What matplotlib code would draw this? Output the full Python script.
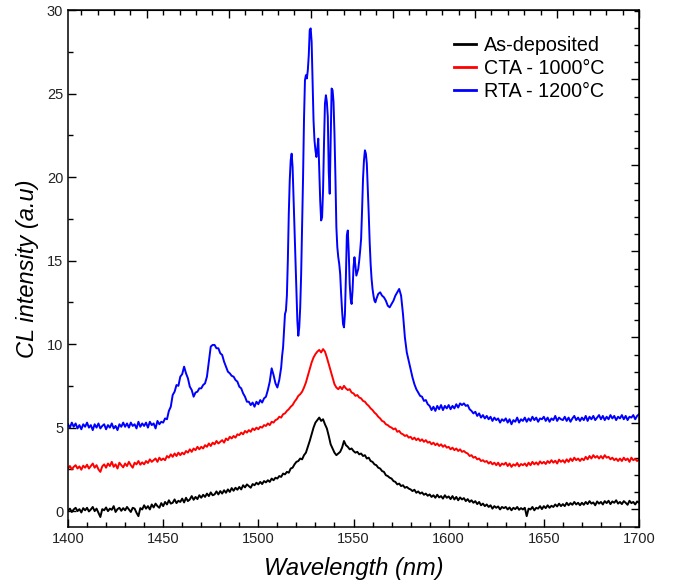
import numpy as np
import matplotlib
matplotlib.use("Agg")
import matplotlib.pyplot as plt
from matplotlib.ticker import MultipleLocator, NullFormatter

plt.rcParams['font.family'] = ['Liberation Sans', 'DejaVu Sans']

# wavelength grids (nm)
wl = np.arange(1400, 1701, 1.0)
wl_blue = np.concatenate([np.arange(1400, 1512, 1.0),
                          np.arange(1512, 1562, 0.5),
                          np.arange(1562, 1701, 1.0)])

# As-deposited
black = [
    0.02, 0.15, -0.05, 0.1, 0.2, 0.0, 0.12, -0.08, 0.18, 0.05,
    0.2, -0.02, 0.1, 0.25, 0.0, 0.15, -0.1, -0.35, 0.12, 0.05,
    0.22, 0.0, 0.15, 0.08, 0.3, -0.05, 0.12, 0.2, 0.02, 0.18,
    0.05, 0.25, 0.1, -0.05, 0.2, 0.15, -0.1, -0.3, 0.18, 0.1,
    0.35, 0.15, 0.3, 0.1, 0.4, 0.22, 0.45, 0.3, 0.2, 0.48,
    0.3, 0.55, 0.4, 0.65, 0.45, 0.5, 0.7, 0.48, 0.62, 0.55,
    0.75, 0.52, 0.8, 0.6, 0.7, 0.9, 0.68, 0.85, 0.72, 0.95,
    0.8, 0.98, 0.85, 1.05, 0.9, 1.12, 0.95, 1.0, 1.18, 1.0,
    1.2, 1.05, 1.25, 1.1, 1.3, 1.15, 1.38, 1.22, 1.4, 1.28,
    1.45, 1.3, 1.55, 1.42, 1.6, 1.5, 1.4, 1.62, 1.55, 1.7,
    1.6, 1.75, 1.62, 1.8, 1.72, 1.85, 1.75, 1.95, 1.85, 2.0,
    1.95, 2.1, 2.05, 2.25, 2.2, 2.35, 2.3, 2.55, 2.6, 2.8,
    2.95, 3.0, 3.15, 3.1, 3.35, 3.5, 3.85, 4.2, 4.6, 5.0,
    5.3, 5.45, 5.6, 5.4, 5.5, 5.2, 4.95, 4.5, 4.0, 3.75,
    3.5, 3.35, 3.45, 3.55, 3.8, 4.2, 3.95, 3.85, 3.7, 3.75,
    3.6, 3.5, 3.55, 3.4, 3.45, 3.3, 3.35, 3.15, 3.2, 3.0,
    2.95, 2.8, 2.75, 2.6, 2.55, 2.4, 2.35, 2.15, 2.1, 2.0,
    1.95, 1.8, 1.75, 1.6, 1.65, 1.5, 1.55, 1.4, 1.45, 1.35,
    1.3, 1.2, 1.28, 1.1, 1.18, 1.05, 1.12, 0.98, 1.05, 0.92,
    1.0, 0.85, 0.95, 0.8, 0.98, 0.82, 0.9, 0.75, 0.95, 0.8,
    0.88, 0.72, 0.9, 0.7, 0.85, 0.65, 0.82, 0.7, 0.78, 0.6,
    0.72, 0.55, 0.65, 0.5, 0.6, 0.42, 0.55, 0.35, 0.45, 0.3,
    0.4, 0.25, 0.35, 0.15, 0.3, 0.2, 0.28, 0.1, 0.25, 0.18,
    0.25, 0.1, 0.22, 0.05, 0.2, 0.12, 0.25, 0.08, 0.18, 0.1,
    0.2, -0.3, 0.15, 0.1, 0.25, 0.05, 0.2, 0.15, 0.3, 0.12,
    0.3, 0.18, 0.35, 0.2, 0.32, 0.25, 0.4, 0.28, 0.45, 0.3,
    0.42, 0.3, 0.5, 0.35, 0.48, 0.38, 0.55, 0.4, 0.5, 0.35,
    0.5, 0.38, 0.55, 0.42, 0.6, 0.45, 0.52, 0.35, 0.58, 0.45,
    0.55, 0.4, 0.6, 0.48, 0.62, 0.42, 0.58, 0.5, 0.65, 0.45,
    0.55, 0.42, 0.6, 0.5, 0.38, 0.62, 0.48, 0.55, 0.4, 0.58,
    0.5,
]

# CTA - 1000°C
red = [
    2.55, 2.7, 2.5, 2.65, 2.75, 2.55, 2.68, 2.48, 2.72, 2.6,
    2.78, 2.55, 2.7, 2.85, 2.6, 2.75, 2.5, 2.35, 2.68, 2.8,
    2.6, 2.85, 2.7, 2.95, 2.65, 2.8, 2.55, 2.9, 2.75, 2.62,
    2.85, 2.7, 2.95, 2.75, 2.6, 2.9, 2.8, 3.0, 2.78, 2.92,
    2.8, 3.0, 2.88, 3.1, 2.95, 3.05, 3.15, 2.95, 3.2, 3.05,
    3.15, 3.05, 3.3, 3.2, 3.4, 3.25, 3.45, 3.3, 3.5, 3.35,
    3.5, 3.4, 3.6, 3.5, 3.7, 3.55, 3.75, 3.65, 3.85, 3.7,
    3.85, 3.75, 3.95, 3.85, 4.05, 3.9, 4.1, 4.0, 4.2, 4.05,
    4.15, 4.25, 4.1, 4.35, 4.25, 4.45, 4.35, 4.5, 4.4, 4.6,
    4.55, 4.7, 4.6, 4.8, 4.7, 4.85, 4.75, 4.95, 4.85, 5.0,
    4.9, 5.05, 5.0, 5.15, 5.1, 5.25, 5.15, 5.35, 5.3, 5.45,
    5.5, 5.65, 5.6, 5.8, 5.85, 6.0, 6.1, 6.25, 6.35, 6.55,
    6.7, 6.9, 7.0, 7.15, 7.4, 7.7, 8.1, 8.5, 8.9, 9.2,
    9.4, 9.55, 9.65, 9.5, 9.7, 9.55, 9.2, 8.8, 8.4, 8.0,
    7.6, 7.4, 7.3, 7.45, 7.3, 7.5, 7.35, 7.25, 7.3, 7.1,
    7.05, 6.9, 6.95, 6.8, 6.75, 6.6, 6.55, 6.4, 6.3, 6.15,
    6.05, 5.9, 5.8, 5.65, 5.55, 5.4, 5.35, 5.2, 5.15, 5.05,
    5.0, 4.9, 4.95, 4.75, 4.8, 4.65, 4.6, 4.5, 4.55, 4.4,
    4.45, 4.3, 4.4, 4.25, 4.35, 4.2, 4.3, 4.15, 4.25, 4.1,
    4.15, 4.0, 4.1, 3.95, 4.05, 3.9, 4.0, 3.85, 3.95, 3.8,
    3.85, 3.7, 3.8, 3.65, 3.75, 3.6, 3.7, 3.55, 3.6, 3.5,
    3.45, 3.3, 3.35, 3.2, 3.25, 3.1, 3.15, 3.0, 3.05, 2.95,
    3.0, 2.85, 2.95, 2.8, 2.9, 2.75, 2.9, 2.7, 2.85, 2.78,
    2.9, 2.7, 2.85, 2.65, 2.8, 2.72, 2.88, 2.68, 2.82, 2.75,
    2.85, 2.7, 2.9, 2.75, 2.95, 2.8, 2.92, 2.78, 2.98, 2.85,
    2.95, 2.82, 3.0, 2.88, 3.05, 2.9, 3.02, 2.85, 3.08, 2.95,
    3.05, 2.9, 3.1, 2.95, 3.15, 3.0, 3.2, 3.05, 3.15, 3.0,
    3.15, 3.05, 3.25, 3.1, 3.3, 3.15, 3.35, 3.2, 3.3, 3.15,
    3.3, 3.15, 3.35, 3.2, 3.25, 3.1, 3.2, 3.05, 3.15, 3.0,
    3.15, 3.0, 3.2, 3.05, 3.15, 2.95, 3.2, 3.05, 3.12, 3.0,
    3.1,
]

# RTA - 1200°C
blue = [
    # 1400 - 1511, 1 nm
    5.2, 5.0, 5.3, 5.05, 5.25, 4.95, 5.15, 4.9, 5.2, 5.05,
    5.3, 5.0, 5.15, 4.85, 5.2, 5.0, 5.25, 4.95, 5.1, 5.2,
    4.9, 5.15, 5.0, 5.25, 4.95, 5.1, 4.85, 5.2, 5.05, 5.3,
    5.05, 5.25, 5.0, 5.3, 5.1, 5.2, 4.95, 5.35, 5.05, 5.25,
    5.1, 5.3, 5.0, 5.35, 5.15, 5.25, 4.95, 5.4, 5.2, 5.35,
    5.3, 5.55, 5.5, 6.0, 6.25, 6.95, 7.15, 7.55, 7.5, 8.05,
    8.2, 8.65, 8.25, 7.95, 7.45, 7.25, 6.85, 7.1, 7.15, 7.35,
    7.35, 7.55, 7.65, 8.05, 8.95, 9.85, 9.95, 9.95, 9.75, 9.75,
    9.45, 9.35, 8.95, 8.65, 8.35, 8.25, 8.1, 8.05, 7.85, 7.75,
    7.45, 7.35, 7.05, 6.85, 6.55, 6.55, 6.35, 6.5, 6.25, 6.55,
    6.4, 6.65, 6.5, 6.75, 6.85, 7.25, 7.75, 8.55, 8.15, 7.65,
    7.4, 7.85,
    # 1512 - 1561.5, 0.5 nm
    8.6, 9.3, 9.8, 10.8, 11.8, 12.0, 12.9, 15.0, 17.8, 19.8,
    21.0, 21.4, 20.6, 18.8, 17.2, 15.3, 13.2, 11.4, 10.5, 11.0,
    12.2, 14.2, 17.0, 20.0, 23.5, 25.8, 26.1, 25.9, 26.4, 27.3,
    28.8, 28.9, 28.1, 25.8, 23.4, 22.2, 21.6, 21.2, 21.7, 22.3,
    20.4, 18.6, 17.4, 17.6, 19.2, 22.0, 24.4, 24.9, 24.5, 23.6,
    20.3, 19.0, 22.0, 25.3, 25.2, 24.5, 22.6, 20.0, 17.0, 15.8,
    15.2, 14.8, 14.2, 13.0, 12.0, 11.2, 11.0, 11.8, 14.0, 16.5,
    16.8, 15.5, 13.6, 12.7, 12.4, 13.2, 14.6, 15.2, 14.7, 14.1,
    14.3, 14.5, 15.0, 15.6, 16.3, 18.0, 19.9, 21.0, 21.6, 21.4,
    20.8, 19.3, 17.8, 16.1, 14.8, 13.9, 13.3, 12.9, 12.6, 12.5,
    # 1562 - 1700, 1 nm
    12.7, 13.0, 13.1, 12.9, 12.8, 12.6, 12.3, 12.2,
    12.4, 12.6, 12.9, 13.1, 13.3, 12.9, 11.8, 10.4, 9.5, 9.0,
    8.5, 8.0, 7.6, 7.3, 7.1, 6.9, 6.85, 6.6, 6.65, 6.4,
    6.3, 6.05, 6.25, 6.0, 6.3, 6.1, 6.35, 6.05, 6.3, 6.15,
    6.35, 6.1, 6.3, 6.15, 6.4, 6.2, 6.45, 6.35, 6.45, 6.3,
    6.35, 6.1, 6.0, 5.85, 5.95, 5.7, 5.85, 5.6, 5.75, 5.55,
    5.7, 5.5, 5.65, 5.4, 5.6, 5.45, 5.55, 5.3, 5.5, 5.4,
    5.55, 5.3, 5.5, 5.2, 5.45, 5.35, 5.6, 5.3, 5.5, 5.4,
    5.6, 5.35, 5.55, 5.4, 5.65, 5.45, 5.6, 5.35, 5.55, 5.5,
    5.65, 5.4, 5.6, 5.35, 5.55, 5.45, 5.7, 5.4, 5.6, 5.5,
    5.45, 5.65, 5.4, 5.6, 5.35, 5.55, 5.7, 5.45, 5.6, 5.4,
    5.6, 5.45, 5.7, 5.4, 5.65, 5.5, 5.7, 5.45, 5.6, 5.75,
    5.5, 5.7, 5.45, 5.65, 5.5, 5.75, 5.55, 5.7, 5.45, 5.65,
    5.55, 5.75, 5.5, 5.7, 5.45, 5.65, 5.6, 5.75, 5.5, 5.7,
    5.8,
]

labels = ['As-deposited', 'CTA - 1000°C', 'RTA - 1200°C']

fig = plt.figure(figsize=(6.76, 5.83), dpi=100)
ax = fig.add_axes([68/676, 56/583, 571/676, 517/583])

ax.plot(wl, black, color='black', lw=1.4, label=labels[0])
ax.plot(wl, red, color='#ff0000', lw=1.4, label=labels[1])
ax.plot(wl_blue, blue, color='#0000ff', lw=1.4, label=labels[2])

ax.set_xlim(1400, 1700)
ax.set_ylim(-0.95, 30)
ax.xaxis.set_major_locator(MultipleLocator(50))
ax.xaxis.set_minor_locator(MultipleLocator(10))
ax.yaxis.set_major_locator(MultipleLocator(5))
ax.yaxis.set_minor_locator(MultipleLocator(2.5))
ax.tick_params(which='both', direction='in', width=1.0, labelsize=10.5,
               labelcolor='#222222', top=False, right=False)
ax.tick_params(which='major', length=6)
ax.tick_params(which='minor', length=3.5)
for s in ax.spines.values():
    s.set_linewidth(1.1)

# mirror axes on top / right with their own tick spacing
top = ax.secondary_xaxis('top', functions=(lambda x: (x - 1700) / 43.1,
                                           lambda t: t * 43.1 + 1700))
top.xaxis.set_major_locator(MultipleLocator(1))
top.xaxis.set_minor_locator(MultipleLocator(0.2))
top.xaxis.set_major_formatter(NullFormatter())
top.tick_params(which='both', direction='in', width=1.0)
top.tick_params(which='major', length=6)
top.tick_params(which='minor', length=3.5)

right = ax.secondary_yaxis('right', functions=(lambda y: (y - 0.1) / 1.03,
                                               lambda t: t * 1.03 + 0.1))
right.yaxis.set_major_locator(MultipleLocator(5))
right.yaxis.set_minor_locator(MultipleLocator(1))
right.yaxis.set_major_formatter(NullFormatter())
right.tick_params(which='both', direction='in', width=1.0)
right.tick_params(which='major', length=6)
right.tick_params(which='minor', length=3.5)

ax.set_xlabel('Wavelength (nm)', fontsize=17, style='italic', va='center')
ax.xaxis.set_label_coords(0.5, -41/517)
ax.set_ylabel('CL intensity (a.u)', fontsize=17, style='italic', va='center')
ax.yaxis.set_label_coords(-40/571, 0.5)

leg = ax.legend(loc='upper right', bbox_to_anchor=(0.94, 0.95), frameon=False,
                fontsize=14.2, handlelength=1.15, handletextpad=0.4,
                labelspacing=0.2, borderpad=0, borderaxespad=0)
for h in leg.get_lines():
    h.set_linewidth(2.0)

fig.savefig('out.png', dpi=100)
